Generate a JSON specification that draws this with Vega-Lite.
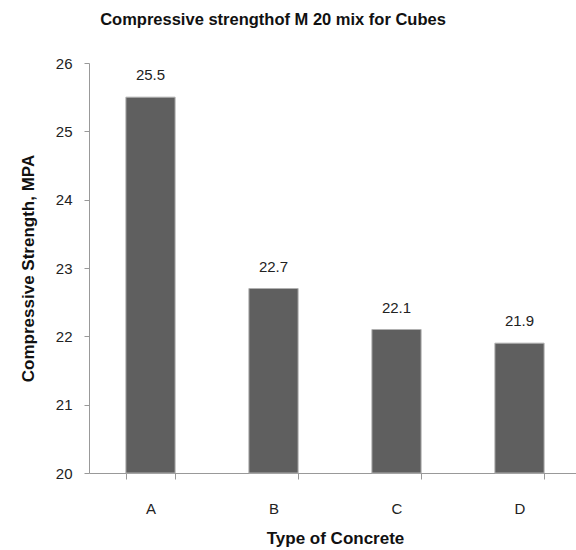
{
  "$schema": "https://vega.github.io/schema/vega-lite/v6.json",
  "autosize": "none",
  "padding": {"left": 89, "top": 63, "right": 0, "bottom": 77},
  "width": 492,
  "height": 410,
  "background": "white",
  "config": {"view": {"stroke": null}, "font": "Liberation Sans"},
  "title": {
    "text": "Compressive strengthof M 20 mix for Cubes",
    "fontSize": 16.5,
    "fontWeight": "bold",
    "color": "#111",
    "anchor": "middle",
    "dx": -62,
    "offset": 28
  },
  "data": {
    "values": [
      {"type": "A", "strength": 25.5},
      {"type": "B", "strength": 22.7},
      {"type": "C", "strength": 22.1},
      {"type": "D", "strength": 21.9}
    ]
  },
  "encoding": {
    "x": {
      "field": "type",
      "type": "nominal",
      "scale": {"paddingInner": 0.6, "paddingOuter": 0.3},
      "axis": {
        "title": "Type of Concrete",
        "titleFontSize": 17,
        "titleFontWeight": "bold",
        "titleColor": "#111",
        "titlePadding": 14,
        "labelAngle": 0,
        "labelFontSize": 15,
        "labelColor": "#222",
        "labelPadding": 22,
        "tickBand": "extent",
        "tickSize": 6,
        "tickColor": "#999",
        "domainColor": "#999"
      }
    },
    "y": {
      "field": "strength",
      "type": "quantitative",
      "scale": {"domain": [20, 26], "zero": false},
      "axis": {
        "title": "Compressive Strength, MPA",
        "titleFontSize": 17,
        "titleFontWeight": "bold",
        "titleColor": "#111",
        "titlePadding": 18,
        "labelFontSize": 15,
        "labelColor": "#222",
        "labelPadding": 12,
        "values": [20, 21, 22, 23, 24, 25, 26],
        "tickSize": 5,
        "tickColor": "#999",
        "domainColor": "#999",
        "grid": false
      }
    }
  },
  "layer": [
    {
      "mark": {"type": "bar", "color": "#5f5f5f", "stroke": "#b0b0b0", "strokeWidth": 1},
      "encoding": {"y2": {"datum": 20}}
    },
    {
      "mark": {"type": "text", "dy": -22, "fontSize": 15, "color": "#222"},
      "encoding": {"text": {"field": "strength", "type": "quantitative", "format": ".1f"}}
    }
  ]
}
